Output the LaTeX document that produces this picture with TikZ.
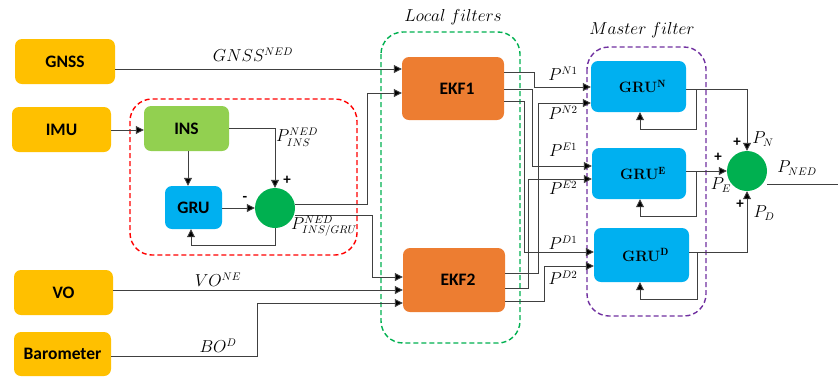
\documentclass[tikz,border=0pt]{standalone}
\usepackage{fontspec}
\newfontfamily\calibri{Carlito}
\usetikzlibrary{arrows.meta,calc}
\definecolor{yel}{HTML}{FFC000}
\definecolor{insg}{HTML}{92D050}
\definecolor{grub}{HTML}{00B0F0}
\definecolor{sumg}{HTML}{00B050}
\definecolor{ekfo}{HTML}{ED7D31}
\definecolor{redd}{HTML}{FF0000}
\definecolor{greend}{HTML}{00B050}
\definecolor{purd}{HTML}{7030A0}
\definecolor{lc}{HTML}{404040}
\begin{document}
\begin{tikzpicture}[x=1pt,y=-1pt,
  blk/.style={rounded corners=7pt,inner sep=0pt,font=\calibri\bfseries\fontsize{17.5}{20}\selectfont},
  srcbox/.style={blk,fill=yel},
  sumnode/.style={circle,fill=sumg,minimum size=40pt,inner sep=0pt},
  ln/.style={draw=lc,line width=0.9pt},
  arr/.style={ln,-{Triangle[length=8pt,width=8pt,fill=black]}},
  dbox/.style={line width=1.4pt,dash pattern=on 5pt off 3pt,rounded corners=22pt},
  lab/.style={inner sep=0pt,font=\fontsize{16}{18}\selectfont},
  sgn/.style={inner sep=0pt,font=\calibri\bfseries\fontsize{15}{16}\selectfont},
  grubig/.style={blk,fill=grub,font=\rmfamily\bfseries\fontsize{15}{17}\selectfont}]
\useasboundingbox (0,0) rectangle (838,376);
% dashed groups
\draw[dbox,redd] (130,99) rectangle (357,255);
\draw[dbox,greend] (381,32) rectangle (520,343);
\draw[dbox,purd] (587,47) rectangle (706,316);
% boxes
\node[srcbox,minimum width=100pt,minimum height=45pt] (gnss) at (65,61.5) {GNSS};
\node[srcbox,minimum width=99pt,minimum height=45pt] (imu) at (61.5,129.5) {IMU};
\node[srcbox,minimum width=99pt,minimum height=45pt] (vo) at (63.5,292.5) {VO};
\node[srcbox,minimum width=97pt,minimum height=44pt] (baro) at (62.5,354) {Barometer};
\node[blk,fill=insg,minimum width=85pt,minimum height=45pt] (ins) at (186.5,128.5) {INS};
\node[blk,fill=grub,minimum width=57pt,minimum height=43pt] (gru) at (193.5,207.5) {GRU};
\node[sumnode] (sum) at (275,208) {};
\node[blk,fill=ekfo,minimum width=102pt,minimum height=63pt] (ekf1) at (453,88.5) {\hspace*{8pt}EKF1};
\node[blk,fill=ekfo,minimum width=102pt,minimum height=64pt] (ekf2) at (454,280) {\hspace*{8pt}EKF2};
\node[grubig,minimum width=95pt,minimum height=51pt] (grun) at (638.5,86.5) {\hspace*{8pt}GRU$^{\mathbf{N}}$};
\node[grubig,minimum width=94pt,minimum height=51pt] (grue) at (639,173.5) {\hspace*{8pt}GRU$^{\mathbf{E}}$};
\node[grubig,minimum width=95pt,minimum height=54pt] (grud) at (641.5,255) {\hspace*{8pt}GRU$^{\mathbf{D}}$};
\node[sumnode] (bsum) at (747,171) {};
% left part connectors
\draw[arr] (gnss.east |- 0,69) -- (ekf1.west |- 0,69);
\draw[arr] (imu.east |- 0,130) -- (ins.west |- 0,130);
\draw[arr] (ins.south -| 188,0) -- (gru.north -| 188,0);
\draw[arr] (ins.east |- 0,128) -| (sum.north);
\draw[arr] (gru.east |- sum.west) -- (sum.west);
\draw[arr] (sum.south) -- (sum.south |- 0,245) -| (gru.south -| 191,0);
\draw[arr] (sum.east |- 0,204) -- (367,204) |- (ekf1.west |- 0,93);
\draw[arr] (sum.east |- 0,215) -- (372,215) |- (ekf2.west |- 0,277);
\draw[arr] (vo.east |- 0,290) -- (ekf2.west |- 0,290);
\draw[arr] (baro.east |- 0,356) -- (257,356) |- (ekf2.west |- 0,303);
% EKF outputs
\draw[arr] (ekf1.east |- 0,72) -- (534,72) |- (grun.west |- 0,87);
\draw[arr] (ekf1.east |- 0,89) -- (532,89) |- (grue.west |- 0,166);
\draw[arr] (ekf1.east |- 0,101) -- (524,101) |- (grud.west |- 0,252);
\draw[arr] (ekf2.east |- 0,273) -- (538,273) |- (grun.west |- 0,103);
\draw[arr] (ekf2.east |- 0,288) -- (528,288) |- (grue.west |- 0,179);
\draw[arr] (ekf2.east |- 0,301) -- (544,301) |- (grud.west |- 0,266);
% master outputs
\draw[arr] (grun.east |- 0,89) -| (bsum.north);
\draw[arr] (696,89) -- (696,129) -| (grun.south -| 640,0);
\draw[arr] (grue.east |- bsum.west) -- (bsum.west);
\draw[arr] (696,171) -- (696,216) -| (grue.south -| 640,0);
\draw[arr] (grud.east |- 0,252) -| (bsum.south);
\draw[arr] (697,252) -- (697,299) -| (grud.south -| 640,0);
\coordinate (outend) at (838,184);
\draw[ln] (bsum.east |- outend) -- (outend);
% labels
\node[lab] (lgnss) at (253,55) {$GNSS^{NED}$};
\node[lab] (lpins) at (297,137) {$P^{NED}_{INS}$};
\node[sgn] (sp1) at (287,180) {+};
\node[sgn] (sm1) at (245,199) {-};
\node[lab] (lpgru) at (324,226) {$P^{NED}_{INS/GRU}$};
\node[lab] (lvo) at (218,280) {$VO^{NE}$};
\node[lab] (lbo) at (218,346) {$BO^{D}$};
\node[lab] (llocal) at (453,17) {$Local\ filters$};
\node[lab] (lmaster) at (642,30) {$Master\ filter$};
\node[lab] (ln1) at (563,74) {$P^{N1}$};
\node[lab] (ln2) at (563,113) {$P^{N2}$};
\node[lab] (le1) at (563,150) {$P^{E1}$};
\node[lab] (le2) at (563,188) {$P^{E2}$};
\node[lab] (ld1) at (563,243) {$P^{D1}$};
\node[lab] (ld2) at (563,278) {$P^{D2}$};
\node[sgn] (sp2) at (737,142) {+};
\node[lab] (lpn) at (763,139) {$P_N$};
\node[sgn] (sp3) at (718,157) {+};
\node[lab] (lpe) at (721,185) {$P_E$};
\node[sgn] (sp4) at (740,204) {+};
\node[lab] (lpd) at (764,213) {$P_D$};
\node[lab] (lpned) at (797,168) {$P_{NED}$};
\end{tikzpicture}
\end{document}
